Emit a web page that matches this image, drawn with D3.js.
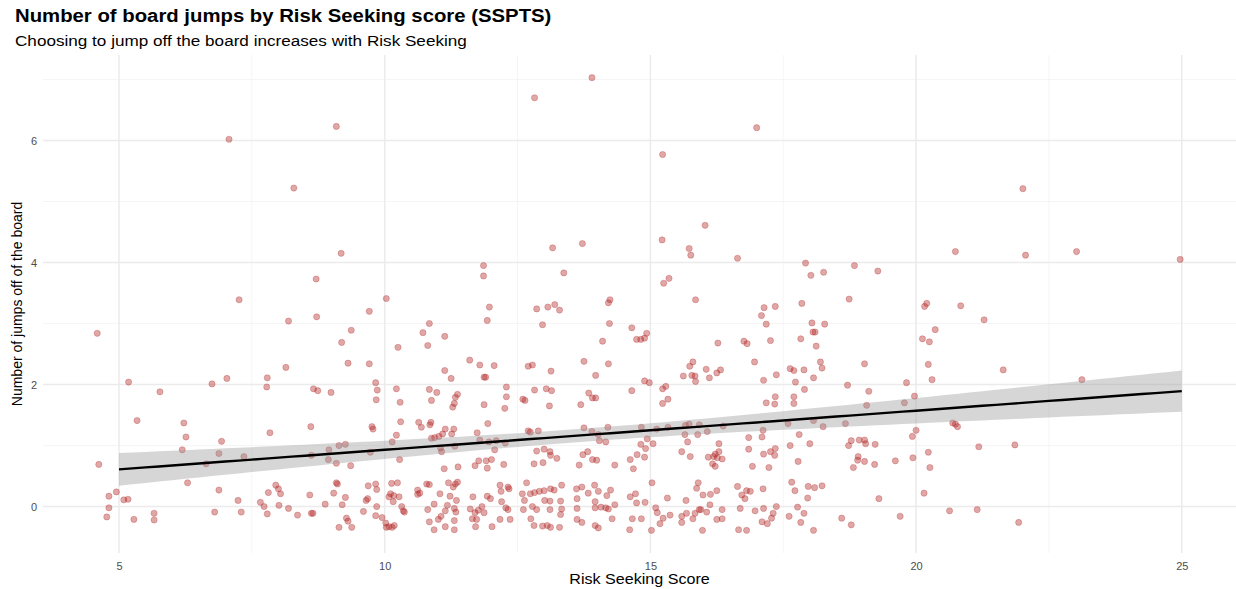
<!DOCTYPE html>
<html lang="en"><head><meta charset="UTF-8">
<script src="https://d3js.org/d3.v7.min.js"></script>
<style>
  body { margin: 0; background: #fff; }
  svg { font-family: "Liberation Sans", Arial, sans-serif; display: block; }
</style>
</head>
<body>
<div id="chart"></div>
<script>
// ---------------------------------------------------------------- data
// jittered (score, jumps) positions
var points = [
  [7.07,6.02],[9.09,6.23],[8.29,5.22],[9.18,4.15],[8.71,3.73],[7.26,3.39],
  [13.9,7.03],[12.82,6.70],[13.16,4.24],[13.72,4.31],[11.86,3.95],[11.86,3.78],[13.37,3.83],[10.03,3.41],[14.24,3.39],
  [17.0,6.21],[15.23,5.77],[16.03,4.61],[15.22,4.37],[15.73,4.23],[15.76,4.12],[16.64,4.07],[17.92,3.99],[18.84,3.95],[18.02,3.79],[18.26,3.84],[19.28,3.86],[15.35,3.74],[15.25,3.66],[15.85,3.39],[18.74,3.40],
  [22.01,5.21],[20.74,4.18],[22.06,4.12],[23.02,4.18],[24.97,4.05],
  [4.59,2.84],[8.19,3.04],[8.72,3.11],[9.71,3.20],[9.37,2.89],[9.19,2.69],[8.14,2.28],[9.31,2.35],[9.71,2.34],[5.18,2.04],[5.77,1.88],[6.75,2.01],[7.03,2.10],[7.79,2.11],[7.78,1.96],[8.66,1.93],[8.74,1.90],[8.99,1.87],[9.83,2.03],[9.84,1.75],
  [5.34,1.41],[6.22,1.37],[6.26,1.14],[6.93,1.07],[6.19,0.93],[6.88,0.87],[7.84,1.21],[8.61,1.31],[9.76,1.31],[9.78,1.27],[7.35,0.82],[6.64,0.70],[4.62,0.69],[8.95,0.93],[9.14,1.00],[9.26,1.02],[8.62,0.84],[8.94,0.77],[9.09,0.71],[9.36,0.67],[9.73,0.89],
  [6.29,0.39],[4.95,0.24],[4.81,0.17],[5.09,0.11],[5.17,0.12],[4.81,-0.02],[4.77,-0.17],[5.28,-0.21],[5.66,-0.11],[5.66,-0.22],[6.88,0.27],[7.24,0.10],[6.80,-0.09],[7.30,-0.09],[7.95,0.35],[8.0,0.29],[8.04,0.21],[7.81,0.23],[7.66,0.07],[7.73,0.0],[8.01,0.02],[7.79,-0.12],[8.19,-0.03],[8.36,-0.14],[8.59,0.19],[8.62,-0.11],[8.65,-0.11],[8.88,0.04],[9.04,0.22],[9.09,0.39],[9.11,0.37],[9.26,0.15],[9.20,0.03],[9.28,-0.19],[9.31,-0.24],[9.14,-0.34],[9.38,-0.34],[9.60,-0.08],[9.65,0.10],[9.68,0.13],[9.69,0.34],[9.83,0.37],[9.85,0.28],[9.85,0.0],[9.83,-0.15],[9.86,1.91],
  [10.25,2.61],[10.84,3.00],[10.72,2.85],[10.81,2.64],[11.13,2.79],[11.97,3.27],[11.93,3.05],[12.86,3.24],[13.07,3.27],[13.20,3.31],[13.29,3.22],[12.97,2.98],[14.21,3.34],[14.23,3.00],[14.65,2.93],[14.93,2.84],[14.74,2.74],[14.82,2.74],[14.89,2.76],[14.10,2.71],
  [11.60,2.40],[11.79,2.32],[12.06,2.31],[11.13,2.23],[11.25,2.10],[11.87,2.12],[11.9,2.12],[12.70,2.30],[12.78,2.32],[13.13,2.22],[13.75,2.38],[13.97,2.15],[14.21,2.34],[14.89,2.06],[14.98,2.03],[14.65,1.90],
  [10.22,1.93],[10.29,1.71],[10.84,1.92],[10.98,1.87],[10.88,1.74],[11.37,1.84],[11.33,1.79],[11.31,1.69],[11.28,1.63],[11.87,1.67],[12.29,1.96],[12.29,1.80],[12.26,1.61],[12.60,1.76],[12.64,1.74],[12.82,1.91],[13.04,1.93],[13.14,1.90],[13.10,1.65],[13.69,1.67],[13.84,1.86],[13.91,1.78],[13.97,1.78],
  [10.30,1.39],[10.64,1.38],[10.69,1.30],[10.85,1.34],[10.87,1.38],[11.14,1.27],[11.30,1.27],[10.88,1.12],[10.94,1.13],[11.02,1.15],[11.09,1.19],[11.26,1.19],[11.94,1.36],[11.74,1.21],[10.22,1.17],[10.14,1.06],[11.79,1.09],[11.96,1.06],[12.10,1.08],[12.27,1.04],[12.07,0.93],[12.70,1.24],[12.74,1.22],[12.89,1.24],[13.75,1.29],[13.90,1.23],[14.02,1.18],[14.20,1.30],[14.04,1.08],[14.16,1.06],[14.83,1.30],[15.12,1.27],[14.94,1.11],[15.05,1.03],[14.82,1.02],[14.91,0.95],[14.75,0.85],[14.89,0.81],[14.62,0.77],[14.68,0.62],[14.33,0.68],[13.91,0.77],[13.99,0.76],[13.73,0.85],[13.82,0.90],[13.66,0.68],[12.86,0.91],[13.00,0.94],[13.11,0.90],[13.12,0.84],[13.24,0.79],[12.98,0.72],[12.81,0.70],[12.24,0.69],[11.91,0.75],[12.01,0.77],[11.77,0.75],[11.70,0.67],[11.93,0.63],[11.38,0.65],[11.12,0.62],[10.28,0.77],[11.07,0.90],[11.05,0.96],[11.32,0.99],
  [10.13,0.38],[10.24,0.39],[10.11,0.21],[10.08,0.16],[10.17,0.18],[10.27,0.16],[10.16,0.08],[10.32,0.0],[10.35,-0.07],[9.95,-0.18],[10.02,-0.27],[10.08,-0.33],[10.14,-0.34],[10.18,-0.31],[10.03,-0.34],[10.62,0.27],[10.66,0.22],[10.79,0.37],[10.84,0.36],[10.62,0.20],[11.04,0.21],[11.20,0.39],[11.33,0.37],[11.37,0.40],[11.29,0.32],[11.23,0.17],[11.35,0.10],[11.18,0.02],[10.93,0.04],[10.81,-0.05],[11.14,-0.07],[11.31,-0.03],[11.34,-0.09],[11.06,-0.16],[11.01,-0.21],[11.31,-0.23],[10.84,-0.25],[10.93,-0.38],[11.14,-0.33],[11.31,-0.38],
  [11.66,0.16],[11.93,0.17],[11.99,0.13],[11.83,0.0],[11.61,-0.04],[11.76,-0.06],[11.70,-0.10],[11.87,-0.10],[11.65,-0.20],[11.73,-0.21],[11.71,-0.33],[12.02,-0.33],[12.17,0.35],[12.32,0.32],[12.19,0.25],[12.34,0.29],[12.20,0.08],[12.28,-0.02],[12.32,-0.05],[12.17,-0.21],[12.36,-0.21],[12.67,0.39],[12.59,0.21],[12.74,0.21],[12.82,0.23],[12.91,0.25],[13.00,0.26],[13.12,0.29],[13.19,0.27],[13.33,0.35],[12.63,0.10],[12.61,-0.05],[12.78,0.0],[12.86,-0.05],[13.01,0.10],[13.11,0.09],[13.31,0.09],[13.11,-0.05],[13.33,-0.04],[13.31,-0.13],[12.75,-0.20],[12.81,-0.31],[12.97,-0.32],[13.06,-0.31],[13.12,-0.34],[13.29,-0.34],
  [13.61,0.29],[13.71,0.32],[13.83,0.22],[13.95,0.35],[14.02,0.25],[14.18,0.18],[14.25,0.27],[13.62,0.13],[13.96,0.08],[13.62,-0.03],[13.96,-0.02],[14.07,-0.01],[14.16,-0.02],[14.21,-0.04],[14.33,0.03],[13.62,-0.21],[13.71,-0.26],[13.96,-0.31],[14.02,-0.35],[14.28,-0.20],[14.62,0.16],[14.72,0.21],[14.74,0.06],[14.90,0.07],[15.03,0.39],[14.66,-0.20],[14.83,-0.20],[14.61,-0.38],[15.02,-0.39],[15.10,-0.02],[10.37,-0.09],
  [17.14,3.26],[17.35,3.28],[17.09,3.13],[17.18,2.99],[17.85,3.33],[18.04,3.01],[18.28,2.99],[18.06,2.86],[18.1,2.86],[17.83,2.75],[18.12,2.63],[17.26,2.72],[16.27,2.68],[16.76,2.71],[16.82,2.67],[16.96,2.37],[15.80,2.37],[15.74,2.30],[16.05,2.25],[15.62,2.14],[15.78,2.15],[15.84,2.14],[15.85,2.05],[16.11,2.11],[16.25,2.19],[16.32,2.24],[17.13,2.07],[17.37,2.16],[17.63,2.26],[17.70,2.23],[17.89,2.24],[18.07,2.11],[18.20,2.37],[18.23,2.27],[17.73,2.04],[17.90,1.92],[18.71,1.99],[19.03,2.34],[19.11,1.89],[19.07,1.66],[15.23,1.93],[15.29,1.97],[15.23,1.69],[15.33,1.76],[17.18,1.70],[17.34,1.68],[17.35,1.80],[17.70,1.80],[17.70,1.69],
  [15.33,1.30],[15.66,1.33],[15.73,1.35],[15.92,1.34],[15.65,1.18],[15.89,1.18],[16.07,1.23],[16.37,1.32],[17.12,1.25],[17.10,1.14],[16.85,1.13],[17.59,1.36],[18.07,1.41],[18.25,1.31],[18.67,1.36],[17.80,1.18],[18.0,1.03],[17.63,1.00],[15.70,1.06],[15.59,0.90],[15.75,0.82],[16.29,1.03],[16.29,0.90],[16.22,0.86],[16.19,0.82],[16.09,0.81],[16.26,0.80],[16.35,0.78],[16.17,0.70],[16.22,0.66],[16.85,0.94],[17.13,0.86],[17.26,0.90],[17.35,0.95],[17.34,0.84],[16.92,0.66],[17.23,0.64],[17.78,0.74],[18.73,1.00],[18.78,1.08],[18.93,1.09],[19.03,1.09],[19.05,1.03],[19.23,1.02],[18.91,0.82],[18.90,0.76],[19.03,0.74],[18.82,0.64],[19.22,0.69],[19.61,0.75],[19.94,0.80],[19.93,1.15],[20.0,1.25],[19.78,1.70],[19.97,1.81],[19.82,2.03],
  [15.32,0.14],[15.13,-0.10],[15.24,-0.19],[15.18,-0.28],[15.37,-0.14],[15.67,0.10],[15.59,-0.16],[15.59,-0.26],[15.80,-0.20],[15.68,-0.11],[15.87,0.30],[15.90,0.39],[15.99,0.19],[16.13,0.20],[16.25,0.26],[16.12,0.03],[15.92,-0.05],[15.95,-0.05],[15.84,-0.11],[16.06,-0.09],[16.35,-0.05],[16.25,-0.21],[16.35,-0.20],[15.98,-0.39],[16.64,0.33],[16.81,0.26],[16.88,0.25],[16.72,0.19],[16.78,0.13],[16.69,-0.03],[16.97,-0.07],[16.66,-0.38],[16.81,-0.39],
  [17.12,0.29],[17.13,-0.03],[17.37,0.0],[17.31,-0.11],[17.28,-0.19],[17.10,-0.25],[17.20,-0.28],[17.66,0.40],[17.72,0.26],[17.97,0.33],[18.09,0.31],[18.23,0.34],[17.96,0.14],[17.77,-0.01],[17.89,-0.11],[17.61,-0.16],[17.83,-0.26],[18.07,-0.39],[18.60,-0.19],[18.78,-0.30],[19.30,0.13],[19.70,-0.16],[20.15,0.22],[20.23,0.89],[20.26,0.64],
  [20.16,3.28],[20.20,3.33],[20.36,2.90],[20.12,2.75],[20.25,2.70],[20.23,2.33],[20.30,2.08],
  [20.84,3.29],[21.28,3.06],[21.64,2.24],[23.12,2.08],[20.69,1.37],[20.74,1.35],[20.78,1.31],[21.18,0.98],[21.86,1.01],[20.63,-0.07],[21.15,-0.05],[21.93,-0.26]
];
var xTicks = [5, 10, 15, 20, 25];
var xMinor = [7.5, 12.5, 17.5, 22.5];
var yTicks = [0, 2, 4, 6];
var yMinor = [1, 3, 5, 7];
// --------------------------------------------------------------- chart
var W = 1236, H = 589;
var margin = {top: 55, right: 0, bottom: 36, left: 43};
var width = W - margin.left - margin.right,
    height = H - margin.top - margin.bottom;
var stretch = 1.15;   // the source picture's text is a little wide

var svg = d3.select("#chart").append("svg")
    .attr("width", W).attr("height", H);

function wideText(sel, tx, ty) {
  return sel.append("text").attr("transform", "translate(" + tx + "," + ty + ") scale(" + stretch + ",1)");
}

wideText(svg, 15, 22).style("font-size", "18px").style("font-weight", "bold").attr("fill", "#000")
    .attr("transform", "translate(15,22) scale(1.13,1)")
    .text("Number of board jumps by Risk Seeking score (SSPTS)");
wideText(svg, 15, 46).style("font-size", "14.9px").attr("fill", "#000")
    .text("Choosing to jump off the board increases with Risk Seeking");

var g = svg.append("g").attr("transform", "translate(" + margin.left + "," + margin.top + ")");

// the smoother works on the raw scores, before jitter
var raw = points.map(function(p) { return [Math.round(p[0]), Math.round(p[1])]; });
var fitRange = d3.extent(raw, function(p) { return p[0]; });

// ggplot style 5% expansion
function expand(ext) { var d = (ext[1] - ext[0]) * 0.05; return [ext[0] - d, ext[1] + d]; }
var xExt = d3.extent(points.map(function(p) { return p[0]; }).concat(fitRange));
var yExt = d3.extent(points, function(p) { return p[1]; });

var x = d3.scaleLinear().domain(expand(xExt)).range([0, width]);
var y = d3.scaleLinear().domain(expand(yExt)).range([height, 0]);

// grid
g.selectAll(".minx").data(xMinor).enter().append("line")
    .attr("x1", x).attr("x2", x).attr("y1", 0).attr("y2", height)
    .attr("stroke", "#f2f2f2").attr("stroke-width", 0.8);
g.selectAll(".miny").data(yMinor).enter().append("line")
    .attr("y1", y).attr("y2", y).attr("x1", 0).attr("x2", width)
    .attr("stroke", "#f2f2f2").attr("stroke-width", 0.8);
g.selectAll(".majx").data(xTicks).enter().append("line")
    .attr("x1", x).attr("x2", x).attr("y1", 0).attr("y2", height)
    .attr("stroke", "#ebebeb").attr("stroke-width", 1.5);
g.selectAll(".majy").data(yTicks).enter().append("line")
    .attr("y1", y).attr("y2", y).attr("x1", 0).attr("x2", width)
    .attr("stroke", "#ebebeb").attr("stroke-width", 1.5);

// points
g.selectAll("circle").data(points).enter().append("circle")
    .attr("cx", function(p) { return x(p[0]); })
    .attr("cy", function(p) { return y(p[1]); })
    .attr("r", 3.1)
    .attr("fill", "#b22222").attr("fill-opacity", 0.4)
    .attr("stroke", "#b22222").attr("stroke-opacity", 0.35).attr("stroke-width", 0.8);

// linear fit with 95% band
var n = raw.length;
var xbar = d3.mean(raw, function(p) { return p[0]; });
var ybar = d3.mean(raw, function(p) { return p[1]; });
var sxx = d3.sum(raw, function(p) { return (p[0] - xbar) * (p[0] - xbar); });
var sxy = d3.sum(raw, function(p) { return (p[0] - xbar) * (p[1] - ybar); });
var b = sxy / sxx, a = ybar - b * xbar;
var s = Math.sqrt(d3.sum(raw, function(p) { var r = p[1] - a - b * p[0]; return r * r; }) / (n - 2));
var tq = 1.965;
var fit = d3.range(81).map(function(i) {
  var xv = fitRange[0] + (fitRange[1] - fitRange[0]) * i / 80;
  var se = s * Math.sqrt(1 / n + (xv - xbar) * (xv - xbar) / sxx);
  var yv = a + b * xv;
  return {x: xv, y: yv, lo: yv - tq * se, hi: yv + tq * se};
});

g.append("path").datum(fit)
    .attr("fill", "#999999").attr("fill-opacity", 0.4)
    .attr("d", d3.area().x(function(d) { return x(d.x); })
        .y0(function(d) { return y(d.lo); }).y1(function(d) { return y(d.hi); }));
g.append("path").datum(fit)
    .attr("fill", "none").attr("stroke", "#000").attr("stroke-width", 2.4)
    .attr("d", d3.line().x(function(d) { return x(d.x); }).y(function(d) { return y(d.y); }));

// axes (labels only, theme_minimal)
var xAxis = g.append("g").attr("transform", "translate(0," + height + ")")
    .call(d3.axisBottom(x).tickValues(xTicks).tickSize(0).tickPadding(9));
var yAxis = g.append("g")
    .call(d3.axisLeft(y).tickValues(yTicks).tickSize(0).tickPadding(6));
[xAxis, yAxis].forEach(function(ax) {
  ax.select(".domain").remove();
  ax.selectAll("text").attr("fill", "#4d4d4d").style("font-size", "11px")
    .style("font-family", "Liberation Sans, Arial, sans-serif");
});

wideText(svg, margin.left + width / 2, 584)
    .attr("text-anchor", "middle").style("font-size", "14px")
    .text("Risk Seeking Score");
svg.append("text").attr("transform", "translate(22," + (margin.top + height / 2) + ") rotate(-90)")
    .attr("text-anchor", "middle").style("font-size", "14px")
    .text("Number of jumps off of the board");
</script>
</body>
</html>
